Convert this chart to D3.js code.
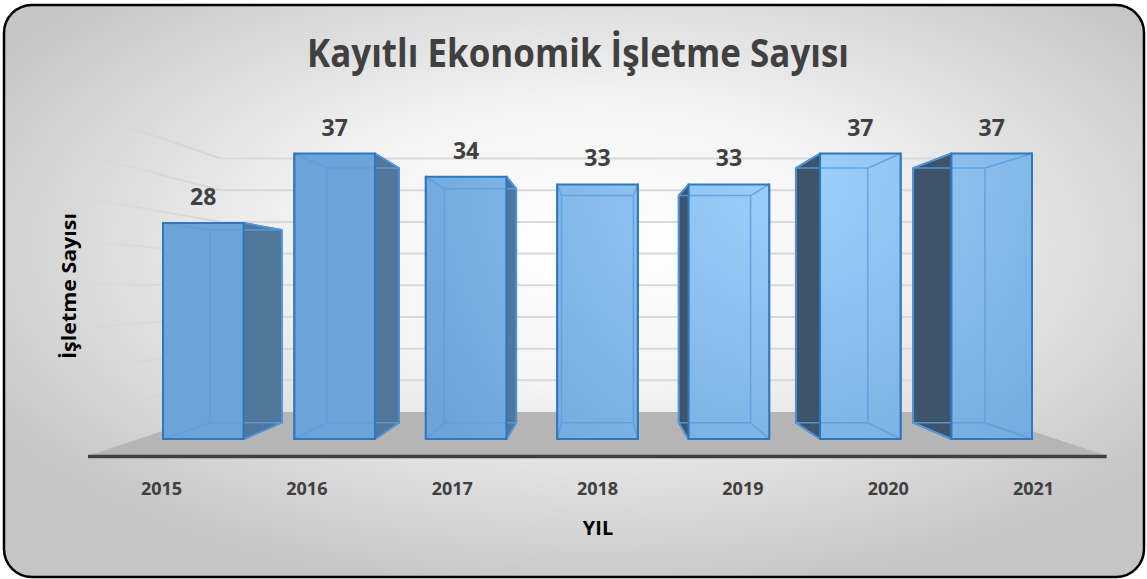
<!DOCTYPE html>
<html>
<head>
<meta charset="utf-8">
<script src="https://cdn.jsdelivr.net/npm/d3@7"></script>
<style>
  body { margin: 0; background: #fff; }
  text { font-family: "Open Sans", "DejaVu Sans", sans-serif; font-weight: bold; }
</style>
</head>
<body>
<div id="chart"></div>
<script>
const years = ["2015", "2016", "2017", "2018", "2019", "2020", "2021"];
const counts = [28, 37, 34, 33, 33, 37, 37];
const gridValues = [5, 10, 15, 20, 25, 30, 35, 40];
const titleText = "Kayıtlı Ekonomik İşletme Sayısı";
const yTitle = "İşletme Sayısı";
const xTitle = "YIL";

const chartWidth = 1147;
const chartHeight = 579;

// perspective: vanishing point and depth factors (front plane of bars = 1)
const vp = { x: 597, y: 288 };
const depth = { floorFront: 1.106, barBack: 0.892, wall: 0.821 };
const plotLeft = 138.6, plotRight = 1056;

const svg = d3.select("#chart")
    .append("svg")
    .attr("width", chartWidth)
    .attr("height", chartHeight);

const defs = svg.append("defs");

const bg = defs.append("radialGradient")
    .attr("id", "bg")
    .attr("cx", "0.52").attr("cy", "0.42").attr("r", "0.62");
bg.append("stop").attr("offset", "0").attr("stop-color", "#ffffff");
bg.append("stop").attr("offset", "0.4").attr("stop-color", "#f4f4f4");
bg.append("stop").attr("offset", "1").attr("stop-color", "#c5c5c5");

const front = defs.append("radialGradient")
    .attr("id", "front")
    .attr("gradientUnits", "userSpaceOnUse")
    .attr("cx", 790).attr("cy", 170).attr("r", 430);
front.append("stop").attr("offset", "0").attr("stop-color", "#9ed1fc");
front.append("stop").attr("offset", "1").attr("stop-color", "#6ca3d8");

const wallFade = defs.append("linearGradient")
    .attr("id", "wallFade")
    .attr("gradientUnits", "userSpaceOnUse")
    .attr("x1", 222).attr("x2", 90).attr("y1", 0).attr("y2", 0);
wallFade.append("stop").attr("offset", "0").attr("stop-color", "#d4d4d4");
wallFade.append("stop").attr("offset", "1").attr("stop-color", "#d4d4d4").attr("stop-opacity", 0.25);

svg.append("rect")
    .attr("x", 4).attr("y", 5)
    .attr("width", 1140).attr("height", 572)
    .attr("rx", 28)
    .attr("fill", "url(#bg)")
    .attr("stroke", "#000")
    .attr("stroke-width", 2.5);

const x = d3.scaleBand()
    .domain(years)
    .range([163, 1032])
    .paddingInner(0.387)
    .paddingOuter(0);

const y = d3.scaleLinear()
    .domain([0, 40])
    .range([439, 130.4]);

function proj(px, py, f) {
    return [vp.x + (px - vp.x) * f, vp.y + (py - vp.y) * f];
}

// back wall gridlines
svg.append("g").selectAll("line")
    .data(gridValues)
    .enter().append("line")
    .attr("x1", d => proj(plotLeft, y(d), depth.wall)[0])
    .attr("x2", d => proj(plotRight, y(d), depth.wall)[0])
    .attr("y1", d => proj(plotLeft, y(d), depth.wall)[1])
    .attr("y2", d => proj(plotRight, y(d), depth.wall)[1])
    .attr("stroke", "#d9d9d9")
    .attr("stroke-width", 2);

// left wall gridlines
svg.append("g").selectAll("line")
    .data(gridValues)
    .enter().append("line")
    .attr("x1", d => proj(plotLeft, y(d), depth.wall)[0])
    .attr("y1", d => proj(plotLeft, y(d), depth.wall)[1])
    .attr("x2", d => proj(plotLeft, y(d), depth.floorFront)[0])
    .attr("y2", d => proj(plotLeft, y(d), depth.floorFront)[1])
    .attr("stroke", "url(#wallFade)")
    .attr("stroke-width", 2);

// floor
const floorPts = [
    proj(plotLeft, y(0), depth.wall),
    proj(plotRight, y(0), depth.wall),
    proj(plotRight, y(0), depth.floorFront),
    proj(plotLeft, y(0), depth.floorFront)
];
svg.append("polygon")
    .attr("points", floorPts.map(p => p.join(",")).join(" "))
    .attr("fill", "#b5b5b5");

svg.append("line")
    .attr("x1", floorPts[3][0] - 2).attr("x2", floorPts[2][0] + 2)
    .attr("y1", floorPts[3][1] + 1.5).attr("y2", floorPts[2][1] + 1.5)
    .attr("stroke", "#404040")
    .attr("stroke-width", 3.5);

// bars
const bars = years.map((yr, i) => {
    const x0 = x(yr), x1 = x(yr) + x.bandwidth();
    const yt = y(counts[i]), yb = y(0);
    return {
        year: yr, value: counts[i],
        ftl: [x0, yt], ftr: [x1, yt], fbr: [x1, yb], fbl: [x0, yb],
        btl: proj(x0, yt, depth.barBack), btr: proj(x1, yt, depth.barBack),
        bbr: proj(x1, yb, depth.barBack), bbl: proj(x0, yb, depth.barBack)
    };
});

const pts = arr => arr.map(p => p.join(",")).join(" ");

const barG = svg.append("g").selectAll("g")
    .data(bars)
    .enter().append("g");

// right side face (left of vanishing point), left side face (right of it)
barG.append("polygon")
    .attr("points", d => pts([d.ftr, d.btr, d.bbr, d.fbr]))
    .attr("fill", "#51769b")
    .attr("stroke", "#2f78bd")
    .attr("stroke-width", 2)
    .attr("stroke-linejoin", "round");

barG.append("polygon")
    .attr("points", d => pts([d.ftl, d.btl, d.bbl, d.fbl]))
    .attr("fill", "#3e546b")
    .attr("stroke", "#2f78bd")
    .attr("stroke-width", 2)
    .attr("stroke-linejoin", "round");

barG.append("polygon")
    .attr("points", d => pts([d.ftl, d.ftr, d.fbr, d.fbl]))
    .attr("fill", "url(#front)");

// inner (back) edges seen through the front face
barG.append("path")
    .attr("d", d => "M" + pts([d.btl, d.btr, d.bbr, d.bbl]).replace(/ /g, "L") + "Z" +
        "M" + d.ftl + "L" + d.btl + "M" + d.ftr + "L" + d.btr +
        "M" + d.fbr + "L" + d.bbr + "M" + d.fbl + "L" + d.bbl)
    .attr("fill", "none")
    .attr("stroke", "#5a9ee0")
    .attr("stroke-opacity", 0.85)
    .attr("stroke-width", 1.5);

barG.append("polygon")
    .attr("points", d => pts([d.ftl, d.ftr, d.fbr, d.fbl]))
    .attr("fill", "none")
    .attr("stroke", "#2f78bd")
    .attr("stroke-width", 2);

// value labels
barG.append("text")
    .attr("x", d => x(d.year) + x.bandwidth() / 2)
    .attr("y", d => y(d.value) - 18)
    .attr("text-anchor", "middle")
    .style("font-size", "23px")
    .attr("fill", "#404040")
    .text(d => d.value);

// x tick labels on floor front edge
svg.append("g").selectAll("text")
    .data(years)
    .enter().append("text")
    .attr("x", d => proj(x(d) + x.bandwidth() / 2, y(0), depth.floorFront)[0])
    .attr("y", 495)
    .attr("text-anchor", "middle")
    .style("font-size", "18px")
    .attr("fill", "#404040")
    .text(d => d);

svg.append("text")
    .attr("x", 598)
    .attr("y", 535)
    .attr("text-anchor", "middle")
    .style("font-size", "20px")
    .attr("fill", "#000")
    .text(xTitle);

svg.append("text")
    .attr("transform", "translate(76, 286) rotate(-90)")
    .attr("text-anchor", "middle")
    .style("font-size", "20px")
    .attr("textLength", 146)
    .attr("lengthAdjust", "spacingAndGlyphs")
    .attr("fill", "#000")
    .text(yTitle);

svg.append("text")
    .attr("x", 578)
    .attr("y", 67)
    .attr("text-anchor", "middle")
    .attr("textLength", 542)
    .attr("lengthAdjust", "spacingAndGlyphs")
    .style("font-size", "39px")
    .attr("fill", "#404040")
    .text(titleText);
</script>
</body>
</html>
